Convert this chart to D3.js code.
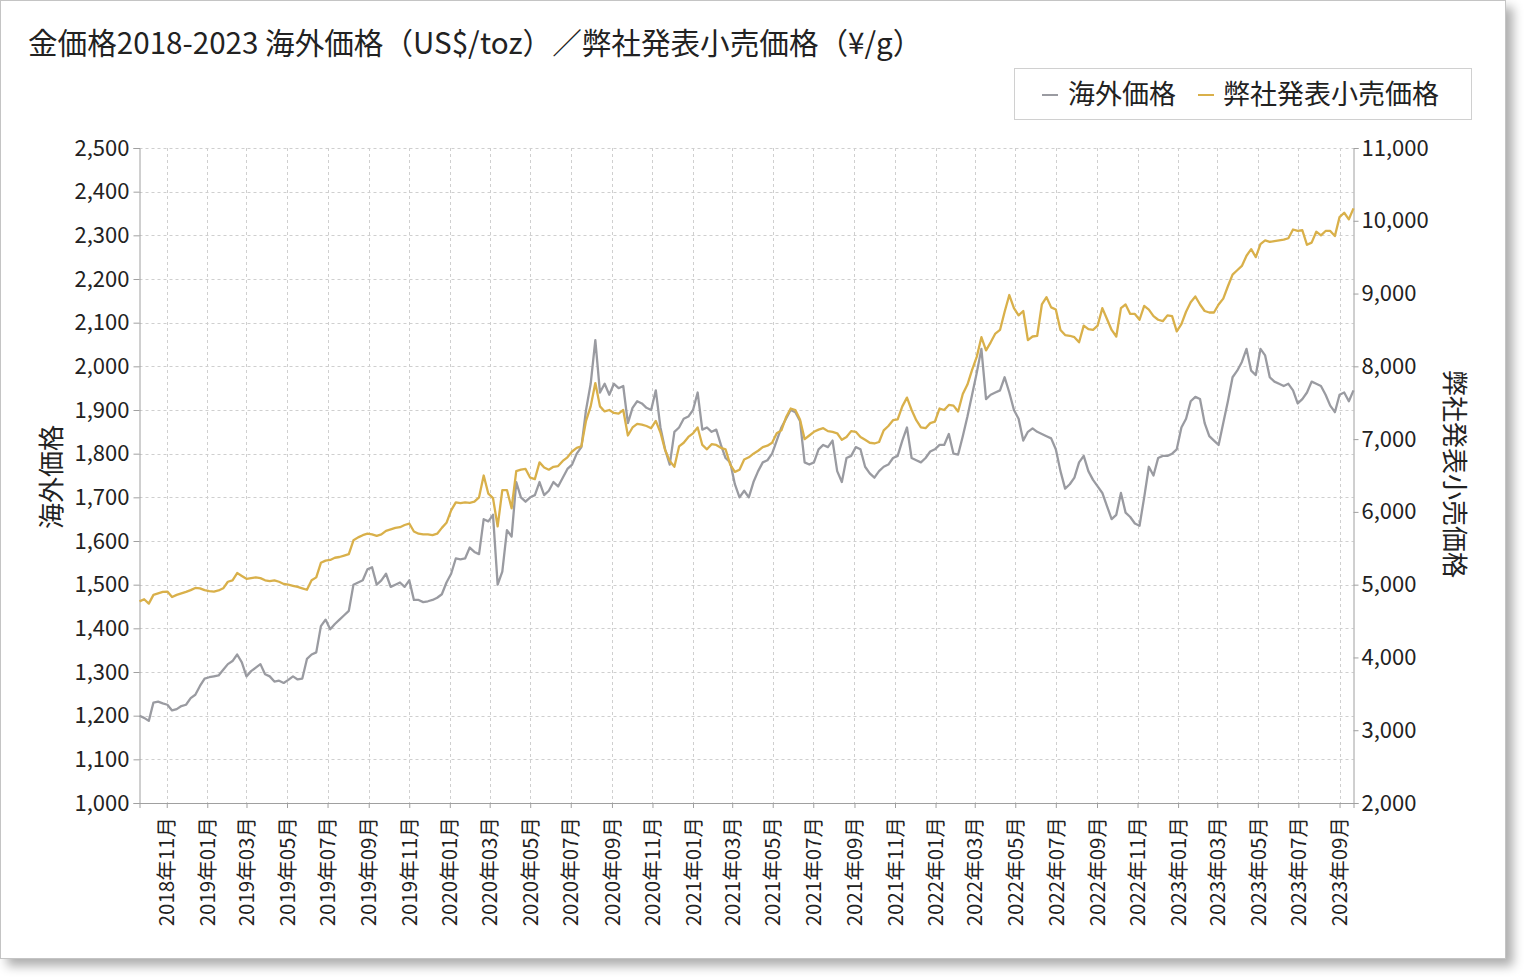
<!DOCTYPE html>
<html><head><meta charset="utf-8">
<script src="https://cdn.jsdelivr.net/npm/d3@7"></script>
<style>
html,body{margin:0;padding:0;background:#fff;}
#card{position:absolute;left:0;top:0;width:1504px;height:957px;background:#fff;border:1px solid #c4c4c4;box-shadow:7px 7px 10px rgba(0,0,0,0.32);}
svg{position:absolute;left:0;top:0;}
text{font-family:"Noto Sans CJK JP","Noto Sans",sans-serif;fill:#222;}
</style></head><body>
<div id="card"></div>
<svg id="chart" width="1536" height="980"></svg>
<script>
// ---- data (weekly samples) ----
const startDate = "2018-09-21";
const stepDays = 7;
const overseasPrice = [
1200,1195,1188,1230,1232,1228,1225,1212,1215,1222,
1225,1240,1248,1268,1285,1288,1290,1292,1305,1318,
1325,1340,1322,1290,1302,1310,1318,1295,1290,1278,
1280,1275,1282,1290,1283,1285,1330,1340,1345,1405,
1420,1398,1410,1420,1430,1440,1500,1505,1510,1535,
1540,1500,1510,1525,1495,1500,1505,1495,1510,1465,
1465,1460,1462,1465,1470,1478,1505,1525,1560,1558,
1560,1585,1575,1570,1650,1645,1660,1500,1530,1625,
1610,1735,1700,1690,1700,1705,1735,1705,1715,1735,
1725,1745,1765,1775,1800,1815,1900,1960,2060,1940,
1960,1935,1960,1950,1955,1870,1905,1920,1915,1905,
1900,1945,1860,1810,1775,1850,1860,1880,1885,1900,
1940,1855,1860,1850,1855,1820,1790,1780,1730,1700,
1715,1700,1735,1760,1780,1785,1800,1830,1860,1880,
1900,1895,1875,1780,1775,1780,1810,1820,1815,1830,
1760,1735,1790,1795,1815,1810,1770,1755,1745,1760,
1770,1775,1790,1795,1830,1860,1790,1785,1780,1790,
1805,1810,1820,1820,1845,1800,1798,1840,1885,1935,
1985,2040,1925,1935,1940,1945,1975,1940,1900,1880,
1830,1850,1858,1850,1845,1840,1835,1810,1760,1720,
1730,1745,1780,1795,1760,1740,1725,1710,1680,1650,
1660,1710,1665,1655,1640,1635,1700,1770,1750,1790,
1795,1795,1800,1810,1860,1880,1920,1930,1925,1870,
1840,1830,1820,1870,1920,1975,1990,2010,2040,1990,
1980,2040,2025,1975,1965,1960,1955,1960,1945,1915,
1925,1940,1965,1960,1955,1935,1910,1895,1935,1940,
1920,1945];
const retailPrice = [
4770,4800,4740,4860,4880,4900,4905,4830,4860,4880,
4900,4925,4955,4950,4925,4910,4905,4920,4950,5040,
5060,5160,5120,5080,5090,5100,5090,5060,5050,5060,
5040,5010,5000,4985,4970,4950,4930,5060,5100,5300,
5330,5340,5370,5380,5400,5420,5610,5650,5680,5700,
5690,5670,5690,5740,5760,5780,5790,5820,5840,5730,
5700,5690,5690,5680,5700,5780,5850,6020,6130,6120,
6130,6125,6140,6200,6500,6250,6190,5800,6300,6300,
6050,6560,6580,6590,6470,6450,6680,6610,6580,6620,
6630,6700,6750,6830,6880,6900,7250,7450,7770,7450,
7380,7400,7360,7350,7400,7050,7160,7210,7200,7180,
7150,7250,7090,6850,6700,6620,6900,6950,7030,7080,
7160,6920,6860,6930,6920,6880,6860,6650,6550,6580,
6720,6750,6800,6840,6890,6910,6950,7080,7120,7300,
7420,7400,7270,7000,7050,7100,7130,7150,7110,7100,
7080,6990,7030,7110,7100,7030,6990,6950,6940,6960,
7120,7180,7260,7270,7450,7570,7400,7260,7160,7150,
7220,7240,7420,7400,7470,7460,7380,7620,7750,7950,
8130,8400,8220,8330,8450,8500,8750,8980,8800,8700,
8760,8360,8410,8420,8850,8950,8810,8780,8500,8430,
8420,8400,8330,8560,8510,8500,8560,8800,8650,8500,
8410,8800,8850,8720,8720,8640,8830,8780,8690,8640,
8620,8700,8690,8480,8580,8750,8880,8960,8850,8760,
8740,8740,8850,8930,9100,9260,9320,9380,9520,9610,
9500,9680,9730,9710,9720,9730,9740,9760,9880,9860,
9870,9670,9700,9850,9800,9860,9860,9790,10050,10110,
10020,10170];
const leftTicks = [1000,1100,1200,1300,1400,1500,1600,1700,1800,1900,2000,2100,2200,2300,2400,2500];
const rightTicks = [2000,3000,4000,5000,6000,7000,8000,9000,10000,11000];
const seriesNames = ["海外価格","弊社発表小売価格"];
const titleText = "金価格2018-2023 海外価格（US$/toz）／弊社発表小売価格（¥/g）";
const endDate = "2023-09-22";

const GRAY = "#9a9ba1", GOLD = "#d9b04a";
const parse = d3.timeParse("%Y-%m-%d");
const t0 = parse(startDate);
const dates = overseasPrice.map((_, i) => d3.timeDay.offset(t0, i * stepDays));

const L = 139.5, R = 1353.5, T = 148, B = 803;
const svg = d3.select("#chart");
const x = d3.scaleTime().domain([t0, parse(endDate)]).range([L, R]);
const yL = d3.scaleLinear().domain([1000, 2500]).range([B, T]);
const yR = d3.scaleLinear().domain([2000, 11000]).range([B, T]);

// title
svg.append("text").attr("x", 28).attr("y", 54).attr("font-size", 29.6).text(titleText);

// legend
const lg = svg.append("g");
lg.append("rect").attr("x", 1014.5).attr("y", 68.5).attr("width", 457).attr("height", 51)
  .attr("fill", "#fff").attr("stroke", "#d0d0d0");
[[1042, 1068, GRAY, seriesNames[0]], [1198, 1223, GOLD, seriesNames[1]]].forEach(([lx, tx, c, n]) => {
  lg.append("line").attr("x1", lx).attr("x2", lx + 16).attr("y1", 95).attr("y2", 95).attr("stroke", c).attr("stroke-width", 2);
  lg.append("text").attr("x", tx).attr("y", 95).attr("dy", "0.35em").attr("font-size", 27).text(n);
});

// grid
const xTicks = x.ticks(d3.timeMonth.every(2));
const grid = svg.append("g").attr("stroke", "#cfcfcf").attr("stroke-dasharray", "3,3").attr("stroke-width", 1);
leftTicks.forEach(v => grid.append("line").attr("x1", L).attr("x2", R).attr("y1", Math.round(yL(v)) + 0.5).attr("y2", Math.round(yL(v)) + 0.5));
xTicks.forEach(d => grid.append("line").attr("x1", Math.round(x(d)) + 0.5).attr("x2", Math.round(x(d)) + 0.5).attr("y1", T).attr("y2", B));

// axes
function styleAxis(g, fs) {
  g.select(".domain").attr("stroke", "#a0a0a0");
  g.selectAll(".tick line").attr("stroke", "#a0a0a0");
  g.selectAll(".tick text").attr("font-size", fs).attr("fill", "#222")
   .style("font-family", '"Noto Sans CJK JP","Noto Sans",sans-serif');
}
const axL = svg.append("g").attr("transform", `translate(${L},0)`)
  .call(d3.axisLeft(yL).tickValues(leftTicks).tickFormat(d3.format(",")).tickSize(6).tickPadding(4));
styleAxis(axL, 22);
const axR = svg.append("g").attr("transform", `translate(${R},0)`)
  .call(d3.axisRight(yR).tickValues(rightTicks).tickFormat(d3.format(",")).tickSize(5).tickPadding(3));
styleAxis(axR, 22);
const axB = svg.append("g").attr("transform", `translate(0,${B})`)
  .call(d3.axisBottom(x).tickValues(xTicks).tickFormat(d3.timeFormat("%Y年%m月")).tickSize(5));
styleAxis(axB, 20.5);
axB.selectAll(".tick text").attr("transform", "rotate(-90)").attr("text-anchor", "end")
  .attr("x", -14).attr("y", 0).attr("dy", "0.35em");

// axis titles
svg.append("text").attr("transform", "translate(52,477) rotate(-90)").attr("text-anchor", "middle")
  .attr("dy", "0.35em").attr("font-size", 26).text(seriesNames[0]);
svg.append("text").attr("transform", "translate(1454,474) rotate(90)").attr("text-anchor", "middle")
  .attr("dy", "0.35em").attr("font-size", 26).text(seriesNames[1]);

// lines
const lineL = d3.line().x((d, i) => x(dates[i])).y(d => yL(d));
const lineR = d3.line().x((d, i) => x(dates[i])).y(d => yR(d));
svg.append("path").datum(overseasPrice).attr("d", lineL).attr("fill", "none").attr("stroke", GRAY).attr("stroke-width", 2.3).attr("stroke-linejoin", "round");
svg.append("path").datum(retailPrice).attr("d", lineR).attr("fill", "none").attr("stroke", GOLD).attr("stroke-width", 2.3).attr("stroke-linejoin", "round");
</script>
</body></html>
